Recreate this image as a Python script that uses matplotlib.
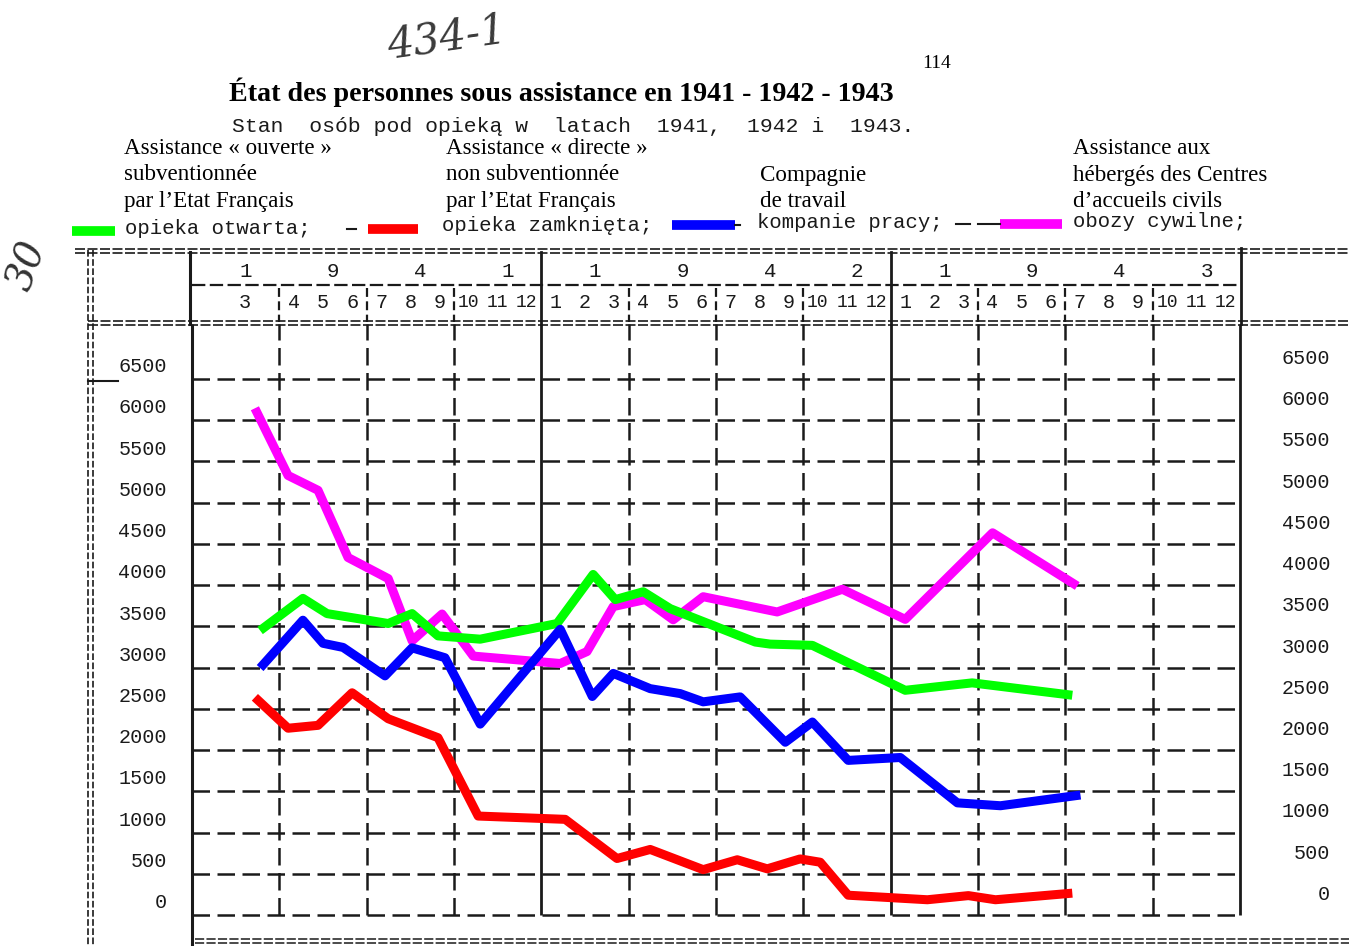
import matplotlib.pyplot as plt
from matplotlib.transforms import blended_transform_factory

W, H = 1349, 946

# months counted from January 1941 (= 0)
green_x = [2.34, 3.81, 4.64, 6.74, 7.56, 8.45, 9.90, 12.54, 13.78, 14.54, 15.50, 16.43, 19.35, 19.86, 21.31, 24.50, 26.80, 30.24]
green_y = [3450, 3840, 3655, 3535, 3655, 3385, 3345, 3535, 4130, 3825, 3920, 3715, 3310, 3285, 3270, 2725, 2815, 2665]

magenta_x = [2.16, 3.30, 4.33, 5.36, 6.74, 7.56, 8.59, 9.66, 12.65, 13.57, 14.47, 15.57, 16.53, 17.56, 20.10, 22.34, 24.50, 27.50, 30.41]
magenta_y = [6145, 5330, 5150, 4335, 4080, 3325, 3650, 3140, 3050, 3195, 3740, 3825, 3580, 3860, 3675, 3950, 3585, 4635, 3990]

blue_x = [2.34, 3.81, 4.50, 5.19, 6.63, 7.56, 8.69, 9.90, 12.65, 13.75, 14.47, 15.74, 16.77, 17.56, 18.83, 20.38, 21.31, 22.54, 24.33, 26.29, 27.77, 30.52]
blue_y = [2995, 3575, 3295, 3245, 2900, 3240, 3120, 2315, 3465, 2650, 2930, 2745, 2685, 2585, 2645, 2095, 2340, 1875, 1910, 1360, 1325, 1455]

red_x = [2.16, 3.30, 4.33, 5.50, 6.74, 8.45, 9.83, 12.82, 14.60, 15.74, 17.56, 18.73, 19.76, 20.89, 21.58, 22.54, 25.26, 26.67, 27.60, 30.24]
red_y = [2640, 2265, 2300, 2695, 2380, 2150, 1200, 1160, 685, 795, 550, 670, 560, 680, 640, 240, 185, 235, 185, 265]

year_digits = ["1", "9", "4", "1", "1", "9", "4", "2", "1", "9", "4", "3"]
month_idx = list(range(2, 36))
month_lab = [str(m) for m in range(3, 13)] + [str(m) for m in range(1, 13)] * 2
yticks = list(range(0, 7000, 500))

fr_labels = [
    (124, ["Assistance « ouverte »", "subventionnée", "par l\u2019Etat Français"]),
    (446, ["Assistance « directe »", "non subventionnée", "par l\u2019Etat Français"]),
    (760, ["", "Compagnie", "de travail"]),
    (1073, ["Assistance aux", "hébergés des Centres", "d\u2019accueils civils"]),
]

SERIF = ["Liberation Serif", "DejaVu Serif"]
MONO = ["Liberation Mono", "DejaVu Sans Mono"]
INK = "#1a1a1a"

fig = plt.figure(figsize=(W / 100, H / 100), dpi=100)
fig.patch.set_facecolor("white")

# overlay in pixel coordinates
ov = fig.add_axes([0, 0, 1, 1])
ov.set_xlim(0, W)
ov.set_ylim(H, 0)
ov.axis("off")

# plot axes: pixel box x 192..1240, y 324..946 ; value 0 at y=915, 82.46 px / 1000
pxk = 0.08246
ax = fig.add_axes([192 / W, 0, (1240 - 192) / W, (946 - 324) / H])
ax.set_xlim(0, 36)
ax.set_ylim((915 - 946) / pxk, (915 - 324) / pxk)
ax.patch.set_visible(False)
for s in ax.spines.values():
    s.set_visible(False)
ax.set_xticks([])
ax.set_yticks([])

# grid
ax.hlines(yticks, 0, 36, colors=INK, lw=1.8, linestyles=(0, (7, 3)))
y_lo, y_hi = ax.get_ylim()
for q in range(0, 37, 3):
    if q == 0:
        ax.vlines(q, y_lo, y_hi, colors=INK, lw=2.2, clip_on=False)
    elif q in (12, 24, 36):
        ax.vlines(q, 0, y_hi, colors=INK, lw=2.0, clip_on=False)
    else:
        ax.vlines(q, 0, y_hi, colors=INK, lw=1.8, linestyles=(0, (7, 3)))

# series
kw = dict(lw=6.5, solid_joinstyle="round", solid_capstyle="butt", clip_on=False)
ax.plot(magenta_x, magenta_y, color="#ff00ff", **kw)
ax.plot(green_x, green_y, color="#00ff00", **kw)
ax.plot(blue_x, blue_y, color="#0000ff", **kw)
ax.plot(red_x, red_y, color="#ff0000", **kw)

# y labels both sides
ytr = ax.get_yaxis_transform()
for v in yticks:
    ax.text(-0.024, v + 150, str(v), transform=ytr, ha="right", va="center",
            family=MONO, fontsize=14.5, color=INK)
    ax.text(1.086, v + 250, str(v), transform=ytr, ha="right", va="center",
            family=MONO, fontsize=14.5, color=INK)

# header table
hdr = blended_transform_factory(ax.transData, ov.transData)
for i, d in enumerate(year_digits):
    ax.text(i * 3 + 1.85, 271, d, transform=hdr, ha="center", va="center",
            family=MONO, fontsize=15, color=INK, clip_on=False)
for idx, lab in zip(month_idx, month_lab):
    xp = 1.8 if idx == 2 else idx + 0.5
    fs = 13 if len(lab) == 2 else 14.5
    ax.text(xp, 302, lab, transform=hdr, ha="center", va="center",
            family=MONO, fontsize=fs, color=INK, clip_on=False)
for q in range(3, 36, 3):
    if q in (12, 24):
        ax.plot([q, q], [252, 324], transform=hdr, color=INK, lw=2.0, clip_on=False)
    else:
        ax.plot([q, q], [288, 322], transform=hdr, color=INK, lw=1.6,
                ls=(0, (4, 2)), clip_on=False)
ax.plot([0, 36], [285, 285], transform=hdr, color=INK, lw=1.6, ls=(0, (6, 2)), clip_on=False)

dd = (0, (6, 1.5))
for yy in (249, 253):
    ov.plot([75, W], [yy, yy], color=INK, lw=1.2, ls=dd)
for yy in (321, 325):
    ov.plot([88, W], [yy, yy], color=INK, lw=1.2, ls=dd)
for yy in (939, 943):
    ov.plot([195, W], [yy, yy], color=INK, lw=1.1, ls=dd)
for xx in (88, 93):
    ov.plot([xx, xx], [250, H], color=INK, lw=1.2, ls=(0, (4, 1.5)))
ov.plot([190, 190], [252, 324], color=INK, lw=2.2)
ov.plot([1241, 1241], [248, 324], color=INK, lw=2.0)
ov.plot([88, 118], [381, 381], color=INK, lw=1.5)

# titles
ov.text(447, 38, "434-1", ha="center", va="center", family="DejaVu Serif",
        style="italic", fontsize=30, color="#3a3a3a", rotation=8)
ov.text(937, 63, "114", ha="center", va="center", family=SERIF, fontsize=14, color="black")
ov.text(561, 92, "État des personnes sous assistance en 1941 - 1942 - 1943",
        ha="center", va="center", family=SERIF, fontsize=20.2, fontweight="bold", color="black")
ov.text(232, 127, "Stan  osób pod opieką w  latach  1941,  1942 i  1943.",
        ha="left", va="center", family=MONO, fontsize=15.4, color=INK)
ov.text(28, 266, "30", ha="center", va="center", family="DejaVu Serif", style="italic",
        fontsize=28, rotation=70, color="#333333")

for x0, lines in fr_labels:
    for k, t in enumerate(lines):
        ov.text(x0, 149 + 26 * k, t, ha="left", va="center", family=SERIF,
                fontsize=16.6, color="black")

# legend row
swatches = [((72, 115), 231, "#00ff00"), ((368, 418), 229, "#ff0000"),
            ((672, 735), 225, "#0000ff"), ((1000, 1062), 224, "#ff00ff")]
for (xa, xb), yy, c in swatches:
    ov.plot([xa, xb], [yy, yy], color=c, lw=7, solid_capstyle="butt")
for xa, xb, yy in [(347, 356, 229), (956, 970, 224), (978, 1000, 224), (735, 740, 225)]:
    ov.plot([xa, xb], [yy, yy], color=INK, lw=1.5)
for x0, yy, t in [(125, 228, "opieka otwarta;"), (442, 225, "opieka zamknięta;"),
                  (757, 222, "kompanie pracy;"), (1073, 221, "obozy cywilne;")]:
    ov.text(x0, yy, t, ha="left", va="center", family=MONO, fontsize=14.9, color=INK)

fig.savefig("out.png", dpi=100, facecolor="white")
